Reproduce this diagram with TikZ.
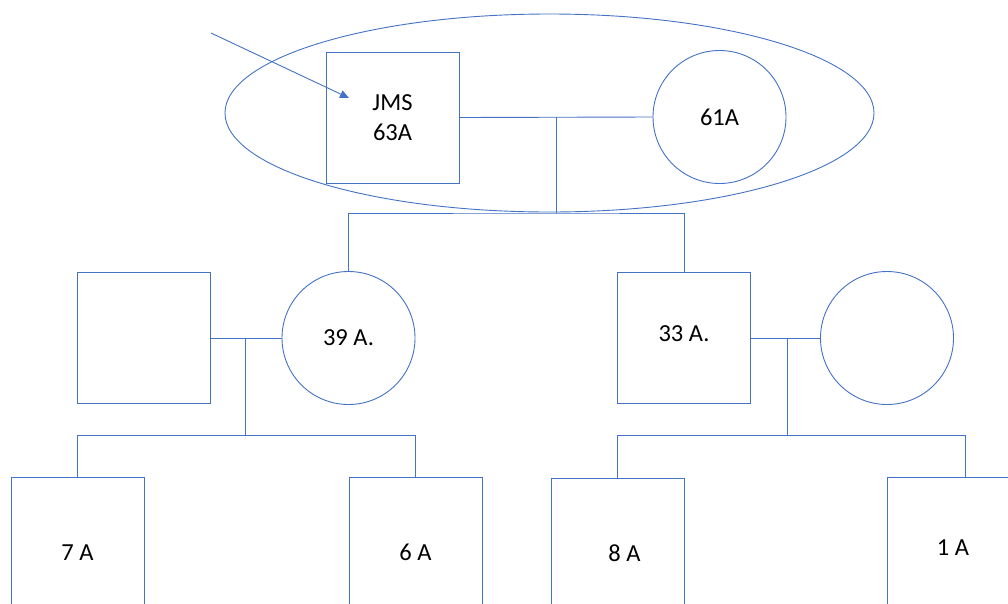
\documentclass[tikz,border=0pt]{standalone}
\usepackage{fontspec}
\setmainfont{Carlito}
\usetikzlibrary{arrows.meta}
\definecolor{pedblue}{RGB}{68,114,196}

\begin{document}
\begin{tikzpicture}[x=1pt,y=-1pt,line width=0.9pt,color=pedblue,
    font=\fontsize{24.5}{30}\selectfont]

        \path[fill=white,use as bounding box] (0,0) rectangle (1008,603);
        \clip (0,0) rectangle (1008,603);

        \begin{scope}[every node/.style={draw,minimum width=133pt,minimum height=131pt,inner sep=0pt,text=black}]
          \node (jms) at (392.5,117.5) [align=center] {JMS\\63A};
          \node (h39) at (143.5,338)  {};
          \node (b33) at (684,338)    {\raisebox{8pt}{33 A.}};
        \end{scope}

        \begin{scope}[every node/.style={circle,draw,minimum size=133pt,inner sep=0pt,text=black}]
          \node (w61) at (719.5,117)  {61A};
          \node (w39) at (348.5,338)  {\raisebox{-7pt}{39 A.}};
          \node (w33) at (887,338)    {};
        \end{scope}

        \begin{scope}[every node/.style={draw,anchor=north,minimum width=133pt,minimum height=150pt,inner sep=0pt,text=black}]
          \node (c7) at (77.5,477)  {7 A};
          \node (c6) at (415.5,477) {6 A};
          \node (c8) at (617.5,478) {\hspace*{14pt}8 A};
          \node (c1) at (965,477) [minimum width=156pt] {\raisebox{9pt}{\hspace*{-24pt}1 A}};
        \end{scope}

        \coordinate (m1) at (556,117);
        \coordinate (s1) at (556,213);
        \coordinate (m2) at (245,338);
        \coordinate (s2) at (245,435);
        \coordinate (m3) at (787,338);
        \coordinate (s3) at (787,435);
        \coordinate (tail) at (211,33);
        \coordinate (tip)  at (349,98);

        \draw (549.5,113) ellipse [x radius=324.5,y radius=99];

        \begin{scope}[every edge/.style={draw}]
          \path (jms.east) edge (w61.west);
          \path (h39) edge (w39);
          \path (b33) edge (w33);
          \path (m1) edge (s1);
          \path (m2) edge (s2);
          \path (m3) edge (s3);
        \end{scope}

        \draw (w39.north) |- (s1) -| (b33.north);
        \draw (c7.north) |- (s2) -| (c6.north);
        \draw (c8.north) |- (s3) -| (c1.north);

        \draw[-{Triangle[length=9pt,width=8pt]}] (tail) -- (tip);

      \end{tikzpicture}
\end{document}
